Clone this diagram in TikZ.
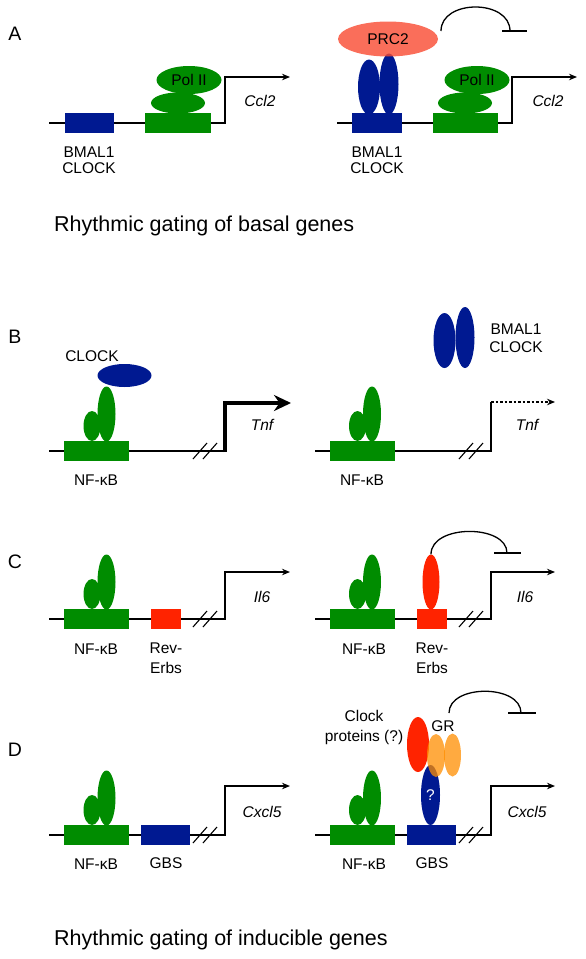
\documentclass[tikz,border=0pt]{standalone}
\usepackage{fontspec}
\setmainfont{Liberation Sans}
\usetikzlibrary{arrows.meta,shapes.geometric}
\definecolor{cblue}{RGB}{0,25,145}
\definecolor{cgreen}{RGB}{0,140,0}
\definecolor{cred}{RGB}{255,35,0}
\definecolor{cprc}{RGB}{249,74,49}
\definecolor{corange}{RGB}{255,142,0}
\begin{document}
\begin{tikzpicture}[x=1pt,y=-1pt,
  dna/.style={line width=1.3pt},
  arr/.style={line width=1.3pt,-{Stealth[length=8pt,width=6.5pt]}},
  boldarr/.style={line width=4pt,-{Stealth[length=17pt,width=16pt]}},
  inh/.style={line width=1.3pt},
  brk/.style={line width=1.1pt},
  boxg/.style={fill=cgreen,draw=none,inner sep=0pt,minimum height=20pt},
  boxb/.style={fill=cblue,draw=none,inner sep=0pt,minimum height=20pt},
  boxr/.style={fill=cred,draw=none,inner sep=0pt,minimum height=20pt},
  ell/.style={ellipse,draw=none,inner sep=0pt},
  bigg/.style={ell,fill=cgreen,minimum width=18pt,minimum height=55pt},
  smallg/.style={ell,fill=cgreen,minimum width=17pt,minimum height=30pt},
  lbl/.style={font=\fontsize{15.5}{17}\selectfont,inner sep=0pt,align=center},
  gene/.style={font=\fontsize{15.5}{17}\selectfont\itshape,inner sep=0pt},
  panel/.style={font=\fontsize{19.5}{22}\selectfont,inner sep=0pt},
  ttl/.style={font=\fontsize{21.5}{24}\selectfont,inner sep=0pt,anchor=west}]
\useasboundingbox (0,0) rectangle (586,959);

% ================= Panel A =================
\node[panel] (pA) at (15,34) {A};
% left
\coordinate (aL0) at (49,123);
\coordinate (aLt) at (225,123);
\coordinate (aLu) at (225,77);
\coordinate (aLe) at (290,77);
\draw[arr] (aL0) -- (aLt) -- (aLu) -- (aLe);
\node[boxb,minimum width=49pt] (aLb) at (89.5,123) {};
\node[boxg,minimum width=66pt] (aLg) at (178,123) {};
\node[ell,fill=cgreen,minimum width=54pt,minimum height=21pt] (aLlow) at (178,103) {};
\node[ell,fill=cgreen,minimum width=65pt,minimum height=28pt,font=\fontsize{15.5}{17}\selectfont] (aLpol) at (189,80) {Pol II};
\node[gene] (aLgene) at (260,101) {Ccl2};
\node[lbl,font=\fontsize{15.5}{16}\selectfont] (aLlab) at (89,160) {BMAL1\\CLOCK};
% right
\coordinate (aR0) at (337,123);
\coordinate (aRt) at (512,123);
\coordinate (aRu) at (512,77);
\coordinate (aRe) at (577,77);
\draw[arr] (aR0) -- (aRt) -- (aRu) -- (aRe);
\node[boxb,minimum width=50pt] (aRb) at (377,123) {};
\node[boxg,minimum width=65pt] (aRg) at (465.5,123) {};
\node[ell,fill=cblue,minimum width=22pt,minimum height=55pt] (aRe1) at (369,87) {};
\node[ell,fill=cblue,minimum width=19pt,minimum height=61pt] (aRe2) at (389,84) {};
\node[ell,fill=cprc,fill opacity=0.8,text opacity=1,minimum width=100pt,minimum height=35pt,font=\fontsize{15.5}{17}\selectfont] (aRprc) at (388,39) {PRC2};
\node[ell,fill=cgreen,minimum width=54pt,minimum height=21pt] (aRlow) at (465,103) {};
\node[ell,fill=cgreen,minimum width=65pt,minimum height=28pt,font=\fontsize{15.5}{17}\selectfont] (aRpol) at (477,80) {Pol II};
\node[gene] (aRgene) at (548,101) {Ccl2};
\node[lbl,font=\fontsize{15.5}{16}\selectfont] (aRlab) at (377,160) {BMAL1\\CLOCK};
\coordinate (aIs) at (441,31);
\coordinate (aIe) at (510,31);
\coordinate (aIb1) at (502,31);
\coordinate (aIb2) at (527,31);
\draw[inh] (aIs) .. controls (441,-1) and (510,-1) .. (aIe);
\draw[inh] (aIb1) -- (aIb2);

\node[ttl] (tA) at (54,226) {Rhythmic gating of basal genes};

% ================= Panel B =================
\node[panel] (pB) at (15,337) {B};
% left
\coordinate (bL0) at (49,451);
\coordinate (bLt) at (225,451);
\coordinate (bLu) at (225,403);
\coordinate (bLe) at (291,403);
\draw[dna] (bL0) -- (bLt);
\draw[boldarr] ([yshift=-1pt]bLt) -- (bLu) -- (bLe);
\node[boxg,minimum width=65pt] (bLg) at (96.5,451) {};
\node[smallg] (bLs) at (92,426) {};
\node[bigg] (bLbig) at (106.5,414) {};
\node[ell,fill=cblue,minimum width=54pt,minimum height=23pt] (bLclk) at (124.5,375.5) {};
\node[lbl] (bLclklab) at (92,356) {CLOCK};
\draw[brk] (193,459) -- (207,443);
\draw[brk] (203,459) -- (217,443);
\node[gene] (bLgene) at (262,425) {Tnf};
\node[lbl] (bLlab) at (96,480) {NF-κB};
% right
\coordinate (bR0) at (315,451);
\coordinate (bRt) at (491,451);
\coordinate (bRu) at (491,402);
\coordinate (bRe) at (555,402);
\draw[dna] (bR0) -- (bRt) -- (bRu);
\draw[arr,dash pattern=on 2.5pt off 2pt] (bRu) -- (bRe);
\node[boxg,minimum width=65pt] (bRg) at (362.5,451) {};
\node[smallg] (bRs) at (357.5,426) {};
\node[bigg] (bRbig) at (372,414) {};
\node[ell,fill=cblue,minimum width=22pt,minimum height=55pt] (bRe1) at (444.5,340.5) {};
\node[ell,fill=cblue,minimum width=19pt,minimum height=61pt] (bRe2) at (465,337.5) {};
\node[lbl,font=\fontsize{15.5}{18}\selectfont] (bRlab2) at (516,338) {BMAL1\\CLOCK};
\draw[brk] (459,459) -- (473,443);
\draw[brk] (469,459) -- (483,443);
\node[gene] (bRgene) at (527,425) {Tnf};
\node[lbl] (bRlab) at (362,480) {NF-κB};

% ================= Panel C =================
\node[panel] (pC) at (15,562) {C};
% left
\coordinate (cL0) at (49,619);
\coordinate (cLt) at (225,619);
\coordinate (cLu) at (225,572);
\coordinate (cLe) at (290,572);
\draw[arr] (cL0) -- (cLt) -- (cLu) -- (cLe);
\node[boxg,minimum width=65pt] (cLg) at (96.5,619) {};
\node[boxr,minimum width=30pt] (cLr) at (166,619) {};
\node[smallg] (cLs) at (92,594) {};
\node[bigg] (cLbig) at (106.5,582) {};
\draw[brk] (193,627) -- (207,611);
\draw[brk] (203,627) -- (217,611);
\node[gene] (cLgene) at (262,597) {Il6};
\node[lbl] (cLlab) at (96,649) {NF-κB};
\node[lbl,font=\fontsize{15.5}{20}\selectfont] (cLlab2) at (166,658) {Rev-\\Erbs};
% right
\coordinate (cR0) at (315,619);
\coordinate (cRt) at (491,619);
\coordinate (cRu) at (491,572);
\coordinate (cRe) at (555,572);
\draw[arr] (cR0) -- (cRt) -- (cRu) -- (cRe);
\node[boxg,minimum width=65pt] (cRg) at (362.5,619) {};
\node[boxr,minimum width=30pt] (cRr) at (432,619) {};
\node[smallg] (cRs) at (357.5,594) {};
\node[bigg] (cRbig) at (372,582) {};
\node[ell,fill=cred,minimum width=17pt,minimum height=55pt] (cRred) at (431,582) {};
\draw[brk] (459,627) -- (473,611);
\draw[brk] (469,627) -- (483,611);
\node[gene] (cRgene) at (525,597) {Il6};
\node[lbl] (cRlab) at (364,649) {NF-κB};
\node[lbl,font=\fontsize{15.5}{20}\selectfont] (cRlab2) at (432,658) {Rev-\\Erbs};
\coordinate (cIe) at (507,553);
\coordinate (cIb1) at (494,553);
\coordinate (cIb2) at (521,553);
\draw[inh] (cRred.north) .. controls (431,524) and (507,524) .. (cIe);
\draw[inh] (cIb1) -- (cIb2);

% ================= Panel D =================
\node[panel] (pD) at (15,750) {D};
% left
\coordinate (dL0) at (49,835);
\coordinate (dLt) at (225,835);
\coordinate (dLu) at (225,786);
\coordinate (dLe) at (290,786);
\draw[arr] (dL0) -- (dLt) -- (dLu) -- (dLe);
\node[boxg,minimum width=65pt] (dLg) at (96.5,835) {};
\node[boxb,minimum width=49pt] (dLb) at (165.5,835) {};
\node[smallg] (dLs) at (92,810) {};
\node[bigg] (dLbig) at (106.5,798) {};
\draw[brk] (193,843) -- (207,827);
\draw[brk] (203,843) -- (217,827);
\node[gene] (dLgene) at (262,812) {Cxcl5};
\node[lbl] (dLlab) at (96,864) {NF-κB};
\node[lbl] (dLlab2) at (166,863) {GBS};
% right
\coordinate (dR0) at (315,835);
\coordinate (dRt) at (491,835);
\coordinate (dRu) at (491,786);
\coordinate (dRe) at (555,786);
\draw[arr] (dR0) -- (dRt) -- (dRu) -- (dRe);
\node[boxg,minimum width=65pt] (dRg) at (362.5,835) {};
\node[boxb,minimum width=49pt] (dRb) at (431.5,835) {};
\node[smallg] (dRs) at (357.5,810) {};
\node[bigg] (dRbig) at (372,798) {};
\node[ell,fill=cblue,minimum width=19pt,minimum height=60pt,text=white,font=\fontsize{15.5}{17}\selectfont] (dRq) at (430.5,795) {?};
\node[ell,fill=cred,minimum width=22pt,minimum height=55pt] (dRred) at (418,744.5) {};
\node[ell,fill=corange,fill opacity=0.75,minimum width=18pt,minimum height=43pt] (dRo1) at (436,755.5) {};
\node[ell,fill=corange,fill opacity=0.75,minimum width=17pt,minimum height=43pt] (dRo2) at (452.5,755) {};
\node[lbl] (dRgr) at (443,726) {GR};
\node[lbl,font=\fontsize{15.5}{20}\selectfont] (dRclk) at (364,727) {Clock\\proteins (?)};
\draw[brk] (459,843) -- (473,827);
\draw[brk] (469,843) -- (483,827);
\node[gene] (dRgene) at (527,812) {Cxcl5};
\node[lbl] (dRlab) at (364,864) {NF-κB};
\node[lbl] (dRlab2) at (432,863) {GBS};
\coordinate (dIs) at (449,713);
\coordinate (dIe) at (521,713);
\coordinate (dIb1) at (508,713);
\coordinate (dIb2) at (536,713);
\draw[inh] (dIs) .. controls (449,684) and (521,684) .. (dIe);
\draw[inh] (dIb1) -- (dIb2);

\node[ttl] (tD) at (54,940) {Rhythmic gating of inducible genes};
\end{tikzpicture}
\end{document}
